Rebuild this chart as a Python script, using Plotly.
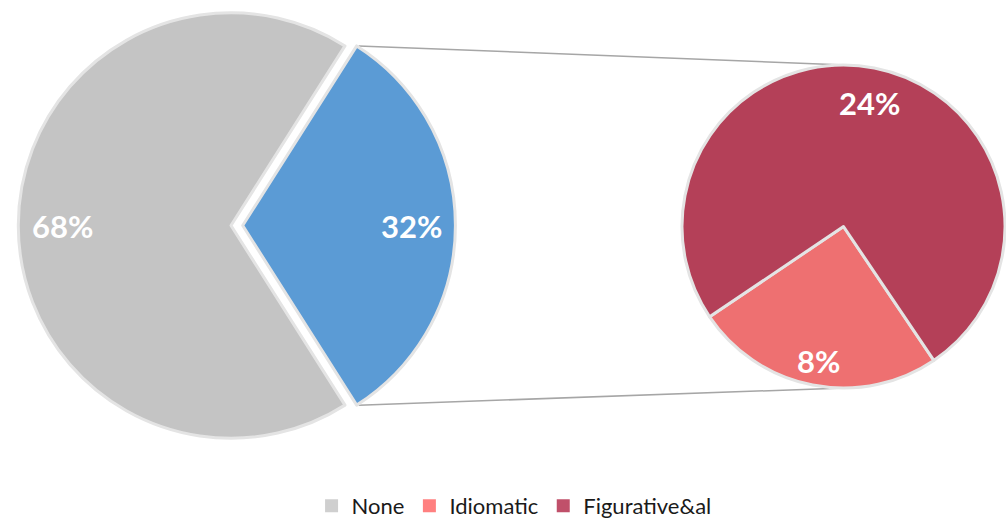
import math
import plotly.graph_objects as go

# ---- data ----
main_labels = ["Other", "None"]
main_values = [32, 68]
sub_labels = ["Idiomatic", "Figurative&al"]
sub_values = [8, 24]
legend_labels = ["None", "Idiomatic", "Figurative&al"]

# ---- styling ----
W, H = 1006, 527
FONT = "Lato"
main_colors = ["#5b9bd5", "#c4c4c4"]
sub_colors = ["#ee7071", "#b44058"]
legend_colors = ["#cfcfcf", "#ff8080", "#c0506a"]
edge = dict(color="#e4e4e4", width=3)

# geometry in pixels
main_c = (231.0, 229.0)
main_r = 216.0
pull = 0.055
sub_c = (845.0, 230.0)
sub_r = 164.0
label_frac = 0.78


def px_to_paper(x, y):
    return x / W, 1 - y / H


def domain_for(c, r, p=0.0):
    half = r * (1 + p)
    x0, y1 = px_to_paper(c[0] - half, c[1] - half)
    x1, y0 = px_to_paper(c[0] + half, c[1] + half)
    return dict(x=[max(0, x0), min(1, x1)], y=[max(0, y0), min(1, y1)])


def point(c, r, compass_deg):
    a = math.radians(compass_deg)
    return c[0] + r * math.sin(a), c[1] - r * math.cos(a)


# main pie: the "Other" slice is centred on the right (90 deg compass)
main_total = sum(main_values)
other_span = 360 * main_values[0] / main_total
main_rot = 90 - other_span / 2

# secondary pie: Idiomatic slice centred slightly left of straight down
sub_total = sum(sub_values)
idio_span = 360 * sub_values[0] / sub_total
sub_rot = 191 - idio_span / 2

fig = go.Figure()

fig.add_trace(go.Pie(
    labels=main_labels, values=main_values, sort=False, direction="clockwise",
    rotation=main_rot, pull=[pull, 0], marker=dict(colors=main_colors, line=edge),
    textinfo="none", hoverinfo="label+percent", showlegend=False,
    domain=domain_for(main_c, main_r, pull),
))
fig.add_trace(go.Pie(
    labels=sub_labels, values=sub_values, sort=False, direction="clockwise",
    rotation=sub_rot, marker=dict(colors=sub_colors, line=edge),
    textinfo="none", hoverinfo="label+percent", showlegend=False,
    domain=domain_for(sub_c, sub_r),
))

# legend entries
for name, col in zip(legend_labels, legend_colors):
    fig.add_trace(go.Scatter(
        x=[None], y=[None], mode="markers", name=name,
        marker=dict(symbol="square", size=13, color=col),
    ))

# connector lines from the pulled slice to the secondary pie
pulled_c = point(main_c, main_r * pull, 90)
top_a = point(pulled_c, main_r, main_rot)
bot_a = point(pulled_c, main_r, main_rot + other_span)
top_b = (sub_c[0], sub_c[1] - sub_r)
bot_b = (sub_c[0], sub_c[1] + sub_r)
shapes = []
for a, b in [(top_a, top_b), (bot_a, bot_b)]:
    x0, y0 = px_to_paper(*a)
    x1, y1 = px_to_paper(*b)
    shapes.append(dict(type="line", xref="paper", yref="paper",
                       x0=x0, y0=y0, x1=x1, y1=y1,
                       line=dict(color="#a6a6a6", width=1.5), layer="below"))

# percentage labels along each slice bisector
annotations = []


def add_label(c, r, bisector, value, total, frac=label_frac):
    x, y = point(c, r * frac, bisector)
    px, py = px_to_paper(x, y)
    annotations.append(dict(
        x=px, y=py, xref="paper", yref="paper", showarrow=False,
        xanchor="center", yanchor="middle",
        text=f"{round(100 * value / total)}%",
        font=dict(family=FONT, size=31, color="white", weight=700),
    ))


add_label(pulled_c, main_r, 90, main_values[0], main_total)
add_label(main_c, main_r, 90 + 180, main_values[1], main_total)
add_label(sub_c, sub_r, sub_rot + idio_span / 2, sub_values[0], main_total, 0.85)
add_label(sub_c, sub_r, sub_rot + idio_span + (360 - idio_span) / 2,
          sub_values[1], main_total)

fig.update_layout(
    width=W, height=H,
    margin=dict(l=0, r=0, t=0, b=0),
    paper_bgcolor="white", plot_bgcolor="white",
    xaxis=dict(visible=False), yaxis=dict(visible=False),
    shapes=shapes, annotations=annotations,
    legend=dict(orientation="h", x=0.511, xanchor="center", y=1 - 514 / H,
                yanchor="middle", font=dict(family=FONT, size=22, color="#1a1a1a"),
                itemwidth=30, bgcolor="rgba(0,0,0,0)"),
)

fig.write_html("out.html")
